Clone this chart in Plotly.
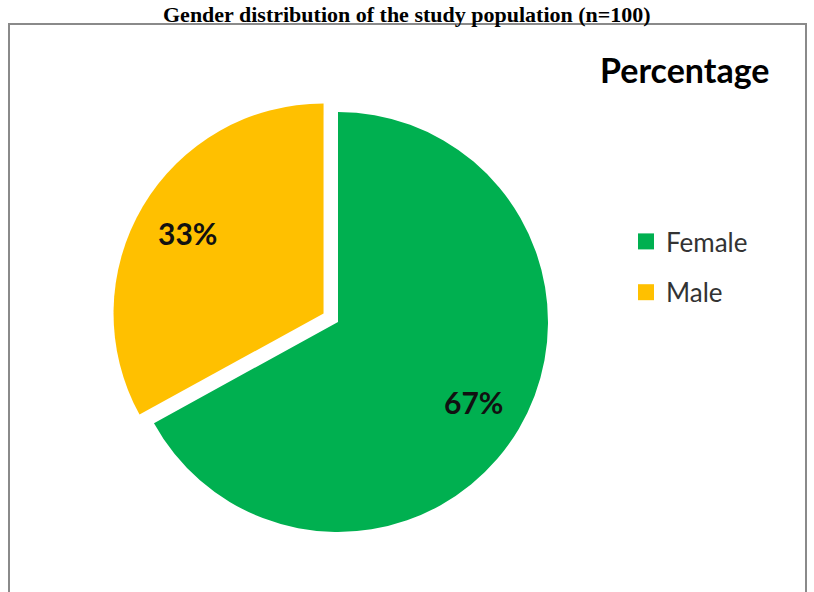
import math
import plotly.graph_objects as go

labels = ["Female", "Male"]
values = [67, 33]
colors = ["#00B050", "#FFC000"]
pulls = [0, 0.08]

W, H = 814, 592

# pie centre and radius in pixels
cx, cy, r = 338, 322, 210
rr = r * (1 + max(pulls))

fig = go.Figure()
fig.add_trace(go.Pie(
    labels=labels,
    values=values,
    sort=False,
    direction="clockwise",
    rotation=0,
    pull=pulls,
    marker=dict(colors=colors, line=dict(width=0)),
    textinfo="none",
    showlegend=False,
    domain=dict(x=[(cx - rr) / W, (cx + rr) / W],
                y=[(H - cy - rr) / H, (H - cy + rr) / H]),
    hoverinfo="label+percent",
))

# legend entries, one group each so the entries can be spaced apart
for lab, col in zip(labels, colors):
    fig.add_trace(go.Scatter(
        x=[None], y=[None], mode="markers", name=lab, legendgroup=lab,
        marker=dict(symbol="square", size=16, color=col),
        showlegend=True, hoverinfo="skip",
    ))

# percentage labels placed along each slice's mid-angle
total = sum(values)
annotations = []
start = 0.0
for v, p in zip(values, pulls):
    frac = v / total
    mid = (start + frac / 2) * 2 * math.pi
    start += frac
    dist = r * (0.75 + p)
    px = cx + dist * math.sin(mid)
    py = cy - dist * math.cos(mid)
    annotations.append(dict(
        text=f"{round(frac * 100)}%", x=px / W, y=1 - py / H,
        xref="paper", yref="paper", xanchor="center", yanchor="middle",
        showarrow=False,
        font=dict(family="Lato", size=30, color="#111111", weight="bold"),
    ))

annotations += [
    dict(text="Gender distribution of the study population (n=100)",
         x=0.5, y=1, xref="paper", yref="paper",
         xanchor="center", yanchor="top", showarrow=False,
         font=dict(family="Liberation Serif", size=22, color="black", weight="bold")),
    dict(text="Percentage",
         x=684 / W, y=1 - 70 / H, xref="paper", yref="paper",
         xanchor="center", yanchor="middle", showarrow=False,
         font=dict(family="Lato", size=34, color="black", weight="bold")),
]

fig.update_layout(
    width=W, height=H,
    margin=dict(l=0, r=0, t=0, b=0),
    paper_bgcolor="white",
    plot_bgcolor="white",
    xaxis=dict(visible=False),
    yaxis=dict(visible=False),
    showlegend=True,
    legend=dict(
        x=626 / W, y=1 - 218 / H, xanchor="left", yanchor="top",
        font=dict(family="Lato", size=26, color="#333333"),
        tracegroupgap=14,
        itemwidth=30,
        bgcolor="rgba(0,0,0,0)",
    ),
    shapes=[dict(
        type="rect", xref="paper", yref="paper",
        x0=9 / W, x1=806 / W, y0=-0.1, y1=1 - 24 / H,
        line=dict(color="#8a8a8a", width=2),
        fillcolor="rgba(0,0,0,0)", layer="below",
    )],
    annotations=annotations,
)

fig.write_html("out.html")
